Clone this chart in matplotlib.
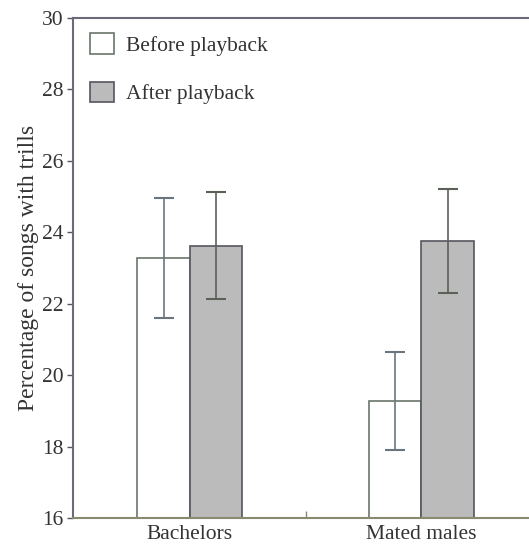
import matplotlib
matplotlib.use("Agg")
import matplotlib.pyplot as plt
import numpy as np

groups = ["Bachelors", "Mated males"]
before = [23.27, 19.28]
before_err = [1.68, 1.37]
after = [23.63, 23.75]
after_err = [1.50, 1.45]
yticks = [16, 18, 20, 22, 24, 26, 28, 30]

plt.rcParams["font.family"] = ["Liberation Serif", "DejaVu Serif"]
plt.rcParams["font.size"] = 15.5

fig = plt.figure(figsize=(5.29, 5.48), dpi=100)
ax = fig.add_axes([73 / 529, 30 / 548, 463 / 529, 500 / 548])

x = np.arange(len(groups))
w = 0.227
edge = "#55555f"
errc = "#6a7580"

ax.bar(x - w / 2, before, width=w, color="white", edgecolor="#6b756b", linewidth=1.2,
       label="Before playback", zorder=2)
ax.bar(x + w / 2, after, width=w, color="#bbbbbb", edgecolor=edge, linewidth=1.2,
       label="After playback", zorder=2)
ax.errorbar(x - w / 2, before, yerr=before_err, fmt="none", ecolor=errc, elinewidth=1.2,
            capsize=7, capthick=1.5, zorder=3)
ax.errorbar(x + w / 2, after, yerr=after_err, fmt="none", ecolor="#5a6258", elinewidth=1.2,
            capsize=7, capthick=1.5, zorder=3)

ax.set_xlim(-0.505, 1.495)
ax.set_ylim(16, 30)
ax.set_yticks(yticks)
ax.set_xticks(x)
ax.set_xticklabels(groups)
ax.tick_params(axis="x", length=0, pad=5, labelcolor="#333333")
ax.tick_params(axis="y", direction="out", length=4, width=1, color=edge, pad=3,
               labelcolor="#333333")
ax.set_xticks([0.5], minor=True)
ax.tick_params(axis="x", which="minor", direction="in", length=5, width=1, color="#888877")

for side in ["left", "top", "right"]:
    ax.spines[side].set_color("#6a6a7a")
    ax.spines[side].set_linewidth(1.5)
ax.spines["bottom"].set_color("#8a8a70")
ax.spines["bottom"].set_linewidth(1.5)

ax.set_ylabel("Percentage of songs with trills", color="#333333", fontsize=17, labelpad=2)

leg = ax.legend(loc="upper left", frameon=False, handlelength=1.1, handleheight=1.1,
                handletextpad=0.55, labelspacing=1.2, borderaxespad=0.3,
                bbox_to_anchor=(0.005, 1.0))
for t in leg.get_texts():
    t.set_color("#333333")

fig.savefig("out.png", dpi=100)
